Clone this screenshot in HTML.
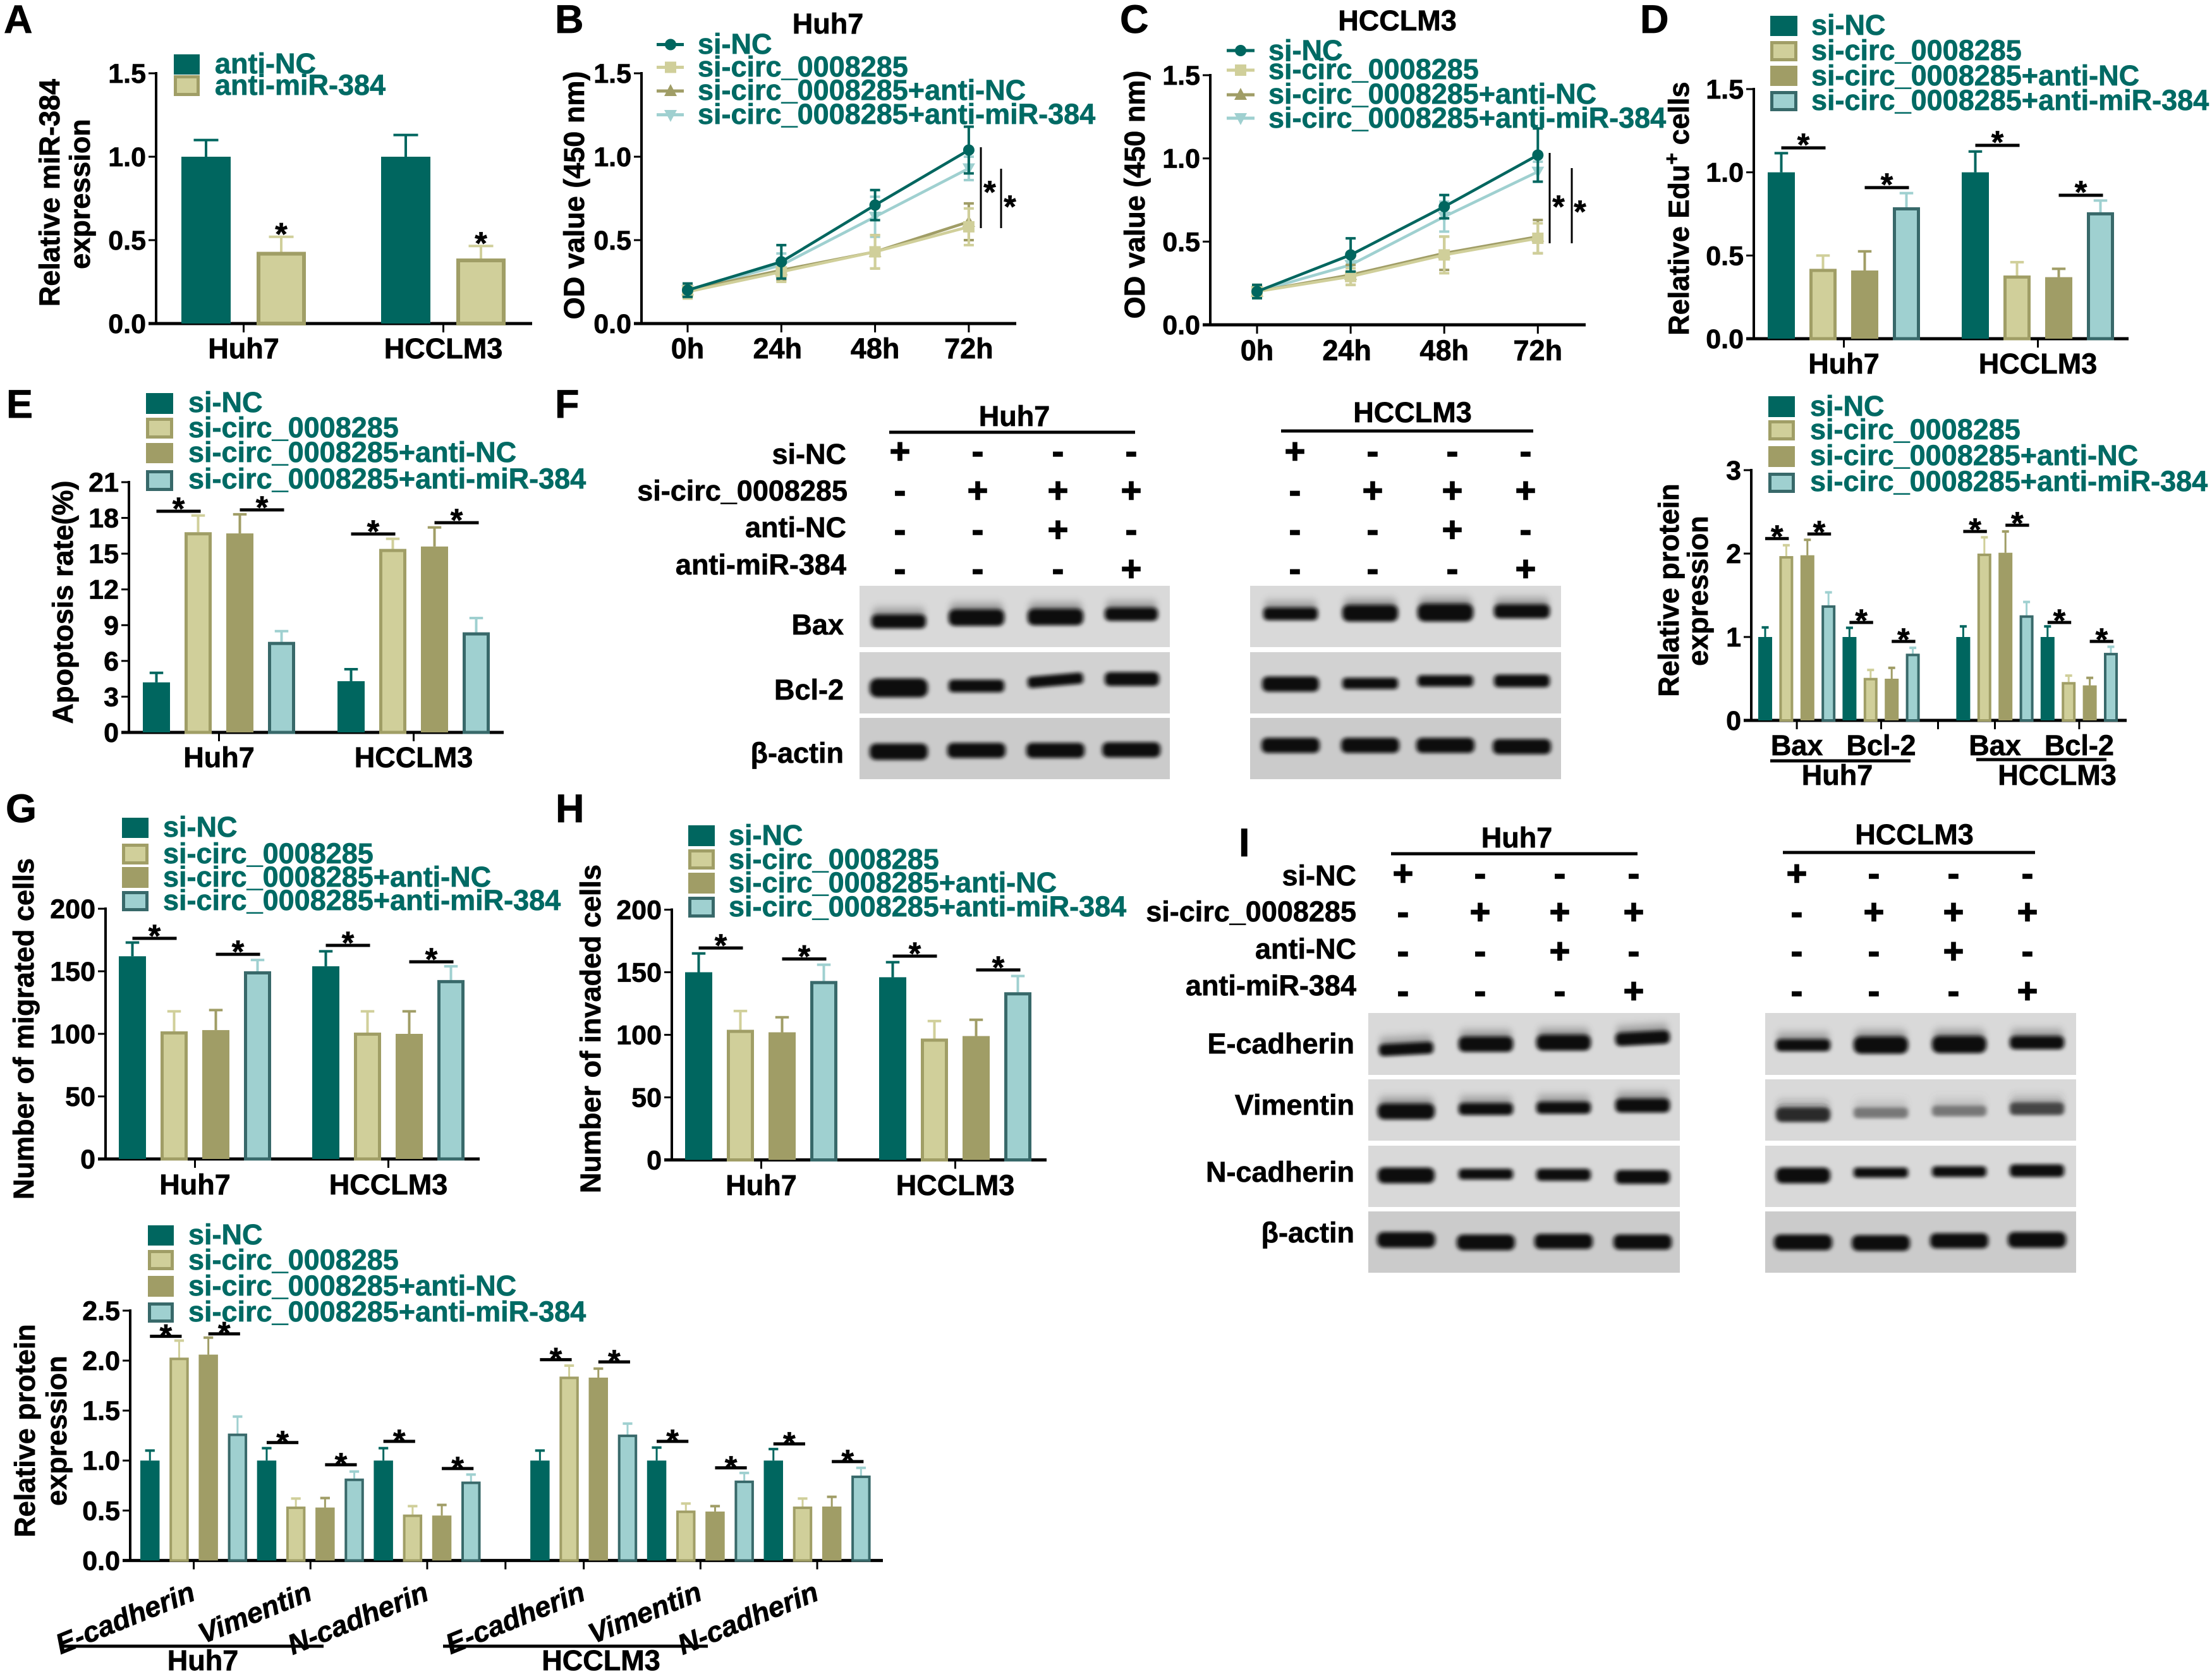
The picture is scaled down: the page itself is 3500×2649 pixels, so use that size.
<!DOCTYPE html>
<html lang="en">
<head>
<meta charset="utf-8">
<title>Multi-panel figure: circ_0008285 and miR-384</title>
<style>
html,body{margin:0;padding:0;background:#fff}
svg{display:block}
text{font-family:"Liberation Sans",sans-serif;font-weight:bold;font-size:45px;fill:#000;stroke:#000;stroke-width:.7px}
.letter{font-size:63px}
.leg{fill:#006a64;stroke:#006a64}
.tick{font-size:43px;text-anchor:end}
.mid{text-anchor:middle}
.end{text-anchor:end}
.pm{text-anchor:middle;font-size:56px;stroke-width:1.5px}
.star{text-anchor:middle;font-size:50px}
.ital{font-style:italic;text-anchor:end}
.rule{stroke:#000;stroke-width:5;fill:none}
.axis{stroke:#000;stroke-width:4;fill:none}
.axis-x{stroke:#000;stroke-width:5;fill:none}
.thin{stroke:#000;stroke-width:3;fill:none}
.bar-s0{fill:#00665f}
.bar-s1{fill:#d0cf9a;stroke:#a09e66}
.bar-s2{fill:#a09d66}
.bar-s3{fill:#9fd0d0;stroke:#38696a}
.err-s0{stroke:#00665f;fill:none}
.err-s1{stroke:#d0cf9a;fill:none}
.err-s2{stroke:#a09d66;fill:none}
.err-s3{stroke:#9fd0d0;fill:none}
.mark-s0{fill:#00665f}
.mark-s1{fill:#d0cf9a}
.mark-s2{fill:#a09d66}
.mark-s3{fill:#9fd0d0}
.blot-a{fill:#d9d9d9}
.blot-b{fill:#d2d2d2}
.blot-c{fill:#cbcbcb}
.band{fill:#0c0c0c;filter:url(#band-blur)}
.smear{fill:#0c0c0c;filter:url(#band-smear)}
</style>
</head>
<body>
<svg id="figure" xmlns="http://www.w3.org/2000/svg" width="3500" height="2649" viewBox="0 0 3500 2649">
<defs>
<filter id="band-blur" x="-20%" y="-150%" width="140%" height="400%">
<feMorphology in="SourceGraphic" operator="dilate" radius="1 2.5" result="fat"/>
<feGaussianBlur in="fat" stdDeviation="3.5 3"/>
</filter>
<filter id="band-smear" x="-20%" y="-300%" width="140%" height="600%">
<feMorphology in="SourceGraphic" operator="dilate" radius="1 2.5" result="fat"/>
<feGaussianBlur in="fat" stdDeviation="3.5 3" result="core"/>
<feOffset in="SourceGraphic" dy="-10" result="up"/>
<feGaussianBlur in="up" stdDeviation="5 8" result="soft"/>
<feComponentTransfer in="soft" result="faint"><feFuncA type="linear" slope="0.4"/></feComponentTransfer>
<feMerge><feMergeNode in="faint"/><feMergeNode in="core"/></feMerge>
</filter>
</defs>
<rect width="3500" height="2649" fill="#fff"/>

<!-- panel letters -->
<g>
<text class="letter" x="6" y="52">A</text>
<text class="letter" x="878" y="52">B</text>
<text class="letter" x="1772" y="52">C</text>
<text class="letter" x="2595" y="52">D</text>
<text class="letter" x="10" y="661">E</text>
<text class="letter" x="878" y="661">F</text>
<text class="letter" x="9" y="1301">G</text>
<text class="letter" x="879" y="1301">H</text>
<text class="letter" x="1960" y="1355">I</text>
</g>

<!-- y axis titles -->
<g>
<text class="mid" transform="translate(94 305) rotate(-90)">Relative miR-384</text>
<text class="mid" transform="translate(142 307) rotate(-90)">expression</text>
<text class="mid" transform="translate(924 309) rotate(-90)">OD value (450 nm)</text>
<text class="mid" transform="translate(1811 308) rotate(-90)">OD value (450 nm)</text>
<text class="mid" transform="translate(2672 330) rotate(-90)">Relative Edu<tspan font-size="32" dy="-16">+</tspan><tspan dy="16"> cells</tspan></text>
<text class="mid" transform="translate(115 953) rotate(-90)">Apoptosis rate(%)</text>
<text class="mid" transform="translate(2656 934) rotate(-90)">Relative protein</text>
<text class="mid" transform="translate(2702 935) rotate(-90)">expression</text>
<text class="mid" transform="translate(53 1628) rotate(-90)">Number of migrated cells</text>
<text class="mid" transform="translate(950 1628) rotate(-90)">Number of invaded cells</text>
<text class="mid" transform="translate(55 2264) rotate(-90)">Relative protein</text>
<text class="mid" transform="translate(105 2264) rotate(-90)">expression</text>
</g>

<!-- line chart titles -->
<text class="mid" x="1310" y="53">Huh7</text>
<text class="mid" x="2211" y="48">HCCLM3</text>

<!-- significance lines in line charts -->
<g>
<line class="thin" x1="1552" x2="1552" y1="233" y2="361"/>
<line class="thin" x1="1584" x2="1584" y1="267" y2="361"/>
<text class="star" x="1566" y="321">*</text>
<text class="star" x="1598" y="344">*</text>
</g>
<g>
<line class="thin" x1="2452" x2="2452" y1="242" y2="385"/>
<line class="thin" x1="2487" x2="2487" y1="266" y2="385"/>
<text class="star" x="2466" y="344">*</text>
<text class="star" x="2500" y="352">*</text>
</g>

<g id="plots"></g>

<!-- legends -->
<g>
<rect class="bar-s0" x="275" y="86" width="41" height="32"/>
<rect class="bar-s1" x="277.5" y="121.5" width="36" height="28" stroke-width="5"/>
<text class="leg" x="340" y="116">anti-NC</text>
<text class="leg" x="340" y="150">anti-miR-384</text>
</g>

<g>
<line class="err-s0" stroke-width="5" x1="1039" x2="1082" y1="70.5" y2="70.5"/>
<circle class="mark-s0" cx="1061" cy="70.5" r="9"/>
<line class="err-s1" stroke-width="5" x1="1039" x2="1082" y1="106.5" y2="106.5"/>
<rect class="mark-s1" x="1052" y="97.5" width="18" height="18"/>
<line class="err-s2" stroke-width="5" x1="1039" x2="1082" y1="144" y2="144"/>
<polygon class="mark-s2" points="1061,133 1071,152 1051,152"/>
<line class="err-s3" stroke-width="5" x1="1039" x2="1082" y1="181.6" y2="181.6"/>
<polygon class="mark-s3" points="1051,174 1071,174 1061,193"/>
<text class="leg" x="1104" y="85">si-NC</text>
<text class="leg" x="1104" y="121">si-circ_0008285</text>
<text class="leg" x="1104" y="158">si-circ_0008285+anti-NC</text>
<text class="leg" x="1104" y="196">si-circ_0008285+anti-miR-384</text>
</g>

<g>
<line class="err-s0" stroke-width="5" x1="1941" x2="1985" y1="80" y2="80"/>
<circle class="mark-s0" cx="1963" cy="80" r="9"/>
<line class="err-s1" stroke-width="5" x1="1941" x2="1985" y1="111" y2="111"/>
<rect class="mark-s1" x="1954" y="102" width="18" height="18"/>
<line class="err-s2" stroke-width="5" x1="1941" x2="1985" y1="150" y2="150"/>
<polygon class="mark-s2" points="1963,139 1973,158 1953,158"/>
<line class="err-s3" stroke-width="5" x1="1941" x2="1985" y1="187" y2="187"/>
<polygon class="mark-s3" points="1953,179 1973,179 1963,198"/>
<text class="leg" x="2007" y="95">si-NC</text>
<text class="leg" x="2007" y="125">si-circ_0008285</text>
<text class="leg" x="2007" y="164">si-circ_0008285+anti-NC</text>
<text class="leg" x="2007" y="202">si-circ_0008285+anti-miR-384</text>
</g>

<g>
<rect class="bar-s0" x="2801" y="25" width="43" height="32"/>
<rect class="bar-s1" x="2803.5" y="67.5" width="38" height="27" stroke-width="5"/>
<rect class="bar-s2" x="2801" y="104" width="43" height="32"/>
<rect class="bar-s3" x="2803.5" y="146.5" width="38" height="27" stroke-width="5"/>
<text class="leg" x="2866" y="55">si-NC</text>
<text class="leg" x="2866" y="95">si-circ_0008285</text>
<text class="leg" x="2866" y="135">si-circ_0008285+anti-NC</text>
<text class="leg" x="2866" y="174">si-circ_0008285+anti-miR-384</text>
</g>

<g>
<rect class="bar-s0" x="231" y="622" width="43" height="33"/>
<rect class="bar-s1" x="233.5" y="663.5" width="38" height="28" stroke-width="5"/>
<rect class="bar-s2" x="231" y="701" width="43" height="32"/>
<rect class="bar-s3" x="233.5" y="746.5" width="38" height="28" stroke-width="5"/>
<text class="leg" x="298" y="652">si-NC</text>
<text class="leg" x="298" y="692">si-circ_0008285</text>
<text class="leg" x="298" y="731">si-circ_0008285+anti-NC</text>
<text class="leg" x="298" y="773">si-circ_0008285+anti-miR-384</text>
</g>

<g>
<rect class="bar-s0" x="2798" y="627" width="42" height="33"/>
<rect class="bar-s1" x="2800.5" y="667.5" width="37" height="27" stroke-width="5"/>
<rect class="bar-s2" x="2798" y="706" width="42" height="33"/>
<rect class="bar-s3" x="2800.5" y="750.5" width="37" height="27" stroke-width="5"/>
<text class="leg" x="2864" y="658">si-NC</text>
<text class="leg" x="2864" y="695">si-circ_0008285</text>
<text class="leg" x="2864" y="736">si-circ_0008285+anti-NC</text>
<text class="leg" x="2864" y="777">si-circ_0008285+anti-miR-384</text>
</g>

<g>
<rect class="bar-s0" x="193" y="1294" width="42" height="32"/>
<rect class="bar-s1" x="195.5" y="1337.5" width="37" height="28" stroke-width="5"/>
<rect class="bar-s2" x="193" y="1372" width="42" height="33"/>
<rect class="bar-s3" x="195.5" y="1412.5" width="37" height="27" stroke-width="5"/>
<text class="leg" x="258" y="1324">si-NC</text>
<text class="leg" x="258" y="1366">si-circ_0008285</text>
<text class="leg" x="258" y="1403">si-circ_0008285+anti-NC</text>
<text class="leg" x="258" y="1440">si-circ_0008285+anti-miR-384</text>
</g>

<g>
<rect class="bar-s0" x="1089" y="1306" width="42" height="33"/>
<rect class="bar-s1" x="1091.5" y="1346.5" width="37" height="27" stroke-width="5"/>
<rect class="bar-s2" x="1089" y="1381" width="42" height="33"/>
<rect class="bar-s3" x="1091.5" y="1421.5" width="37" height="28" stroke-width="5"/>
<text class="leg" x="1153" y="1337">si-NC</text>
<text class="leg" x="1153" y="1375">si-circ_0008285</text>
<text class="leg" x="1153" y="1412">si-circ_0008285+anti-NC</text>
<text class="leg" x="1153" y="1450">si-circ_0008285+anti-miR-384</text>
</g>

<g>
<rect class="bar-s0" x="234" y="1939" width="41" height="32"/>
<rect class="bar-s1" x="236.5" y="1980.5" width="36" height="27" stroke-width="5"/>
<rect class="bar-s2" x="234" y="2019" width="41" height="33"/>
<rect class="bar-s3" x="236.5" y="2063.5" width="36" height="27" stroke-width="5"/>
<text class="leg" x="298" y="1969">si-NC</text>
<text class="leg" x="298" y="2009">si-circ_0008285</text>
<text class="leg" x="298" y="2050">si-circ_0008285+anti-NC</text>
<text class="leg" x="298" y="2091">si-circ_0008285+anti-miR-384</text>
</g>

<!-- group annotations under charts -->
<g>
<line class="rule" x1="2801" x2="3023" y1="1204" y2="1204"/>
<line class="rule" x1="3127" x2="3333" y1="1202" y2="1202"/>
<text class="mid" x="2907" y="1242">Huh7</text>
<text class="mid" x="3255" y="1242">HCCLM3</text>
</g>
<g>
<line class="rule" x1="96" x2="512" y1="2605" y2="2605"/>
<line class="rule" x1="701" x2="1120" y1="2605" y2="2605"/>
<text class="mid" x="321" y="2643">Huh7</text>
<text class="mid" x="951" y="2643">HCCLM3</text>
</g>

<!-- Panel F western blot -->
<g>
<text class="mid" x="1605" y="674">Huh7</text>
<line class="rule" x1="1407" x2="1796" y1="684" y2="684"/>
<text class="mid" x="2235" y="668">HCCLM3</text>
<line class="rule" x1="2027" x2="2426" y1="682" y2="682"/>
<text class="end" x="1339" y="734">si-NC</text>
<text class="end" x="1341" y="792">si-circ_0008285</text>
<text class="end" x="1339" y="850">anti-NC</text>
<text class="end" x="1339" y="909">anti-miR-384</text>
<text class="pm" x="1424 1547 1674 1790 2049 2172 2298 2414" y="733">+---+---</text>
<text class="pm" x="1424 1547 1674 1790 2049 2172 2298 2414" y="795">-+++-+++</text>
<text class="pm" x="1424 1547 1674 1790 2049 2172 2298 2414" y="857">--+---+-</text>
<text class="pm" x="1424 1547 1674 1790 2049 2172 2298 2414" y="919">---+---+</text>
<text class="end" x="1335" y="1004">Bax</text>
<text class="end" x="1335" y="1107">Bcl-2</text>
<text class="end" x="1335" y="1207">β-actin</text>
<rect class="blot-a" x="1360" y="927" width="491" height="97"/>
<rect class="blot-b" x="1360" y="1032" width="491" height="97"/>
<rect class="blot-c" x="1360" y="1136" width="491" height="97"/>
<rect class="blot-a" x="1978" y="927" width="492" height="97"/>
<rect class="blot-b" x="1978" y="1032" width="492" height="97"/>
<rect class="blot-c" x="1978" y="1136" width="492" height="97"/>
<rect class="smear" x="1380" y="975" width="84" height="17" rx="8"/>
<rect class="smear" x="1502" y="967" width="86" height="21" rx="10"/>
<rect class="smear" x="1627" y="966" width="86" height="21" rx="10"/>
<rect class="smear" x="1749" y="964" width="82" height="16" rx="8"/>
<rect class="smear" x="2000" y="964" width="84" height="15" rx="7"/>
<rect class="smear" x="2125" y="960" width="86" height="21" rx="10"/>
<rect class="smear" x="2244" y="958" width="86" height="23" rx="11"/>
<rect class="smear" x="2365" y="959" width="86" height="17" rx="8"/>
<rect class="band" x="1377" y="1076" width="90" height="25" rx="12"/>
<rect class="band" x="1502" y="1078" width="86" height="15" rx="7"/>
<rect class="band" x="1627" y="1070" width="86" height="13" rx="6" transform="rotate(-5 1670 1077)"/>
<rect class="band" x="1749" y="1066" width="84" height="17" rx="8"/>
<rect class="band" x="1998" y="1073" width="88" height="19" rx="9"/>
<rect class="band" x="2125" y="1075" width="86" height="13" rx="6"/>
<rect class="band" x="2244" y="1071" width="86" height="13" rx="6"/>
<rect class="band" x="2365" y="1070" width="86" height="15" rx="7"/>
<rect class="band" x="1377" y="1179" width="90" height="21" rx="10"/>
<rect class="band" x="1500" y="1178" width="90" height="19" rx="9"/>
<rect class="band" x="1625" y="1178" width="90" height="19" rx="9"/>
<rect class="band" x="1745" y="1177" width="90" height="19" rx="9"/>
<rect class="band" x="1997" y="1170" width="90" height="19" rx="9"/>
<rect class="band" x="2123" y="1170" width="90" height="19" rx="9"/>
<rect class="band" x="2242" y="1170" width="90" height="19" rx="9"/>
<rect class="band" x="2363" y="1172" width="90" height="19" rx="9"/>
</g>

<!-- Panel I western blot -->
<g>
<text class="mid" x="2400" y="1341">Huh7</text>
<line class="rule" x1="2201" x2="2591" y1="1351" y2="1351"/>
<text class="mid" x="3029" y="1336">HCCLM3</text>
<line class="rule" x1="2821" x2="3220" y1="1349" y2="1349"/>
<text class="end" x="2146" y="1401">si-NC</text>
<text class="end" x="2146" y="1458">si-circ_0008285</text>
<text class="end" x="2146" y="1517">anti-NC</text>
<text class="end" x="2146" y="1575">anti-miR-384</text>
<text class="pm" x="2220 2342 2468 2585 2843 2965 3091 3208" y="1401">+---+---</text>
<text class="pm" x="2220 2342 2468 2585 2843 2965 3091 3208" y="1462">-+++-+++</text>
<text class="pm" x="2220 2342 2468 2585 2843 2965 3091 3208" y="1524">--+---+-</text>
<text class="pm" x="2220 2342 2468 2585 2843 2965 3091 3208" y="1587">---+---+</text>
<text class="end" x="2143" y="1667">E-cadherin</text>
<text class="end" x="2143" y="1764">Vimentin</text>
<text class="end" x="2143" y="1870">N-cadherin</text>
<text class="end" x="2143" y="1966">β-actin</text>
<rect class="blot-a" x="2165" y="1603" width="493" height="98"/>
<rect class="blot-a" x="2165" y="1708" width="493" height="97"/>
<rect class="blot-a" x="2165" y="1813" width="493" height="97"/>
<rect class="blot-c" x="2165" y="1917" width="493" height="97"/>
<rect class="blot-a" x="2793" y="1603" width="492" height="98"/>
<rect class="blot-a" x="2793" y="1708" width="492" height="97"/>
<rect class="blot-a" x="2793" y="1813" width="492" height="97"/>
<rect class="blot-c" x="2793" y="1917" width="492" height="97"/>
<rect class="smear" x="2183" y="1653" width="84" height="14" rx="7" transform="rotate(-3 2225 1660)"/>
<rect class="smear" x="2309" y="1643" width="84" height="19" rx="9"/>
<rect class="smear" x="2432" y="1640" width="84" height="20" rx="10"/>
<rect class="smear" x="2557" y="1635" width="84" height="16" rx="8" transform="rotate(-3 2599 1643)"/>
<rect class="smear" x="2811" y="1647" width="84" height="14" rx="7"/>
<rect class="smear" x="2934" y="1643" width="84" height="22" rx="11"/>
<rect class="smear" x="3058" y="1642" width="84" height="22" rx="11"/>
<rect class="smear" x="3181" y="1642" width="84" height="16" rx="8"/>
<rect class="smear" x="2181" y="1749" width="88" height="20" rx="10"/>
<rect class="smear" x="2309" y="1748" width="84" height="14" rx="7"/>
<rect class="smear" x="2432" y="1746" width="84" height="14" rx="7"/>
<rect class="smear" x="2557" y="1741" width="84" height="17" rx="8"/>
<rect class="smear" x="2811" y="1755" width="84" height="18" rx="9" style="fill:#2a2a2a"/>
<rect class="smear" x="2934" y="1755" width="84" height="12" rx="6" style="fill:#777"/>
<rect class="smear" x="3058" y="1752" width="84" height="12" rx="6" style="fill:#777"/>
<rect class="smear" x="3181" y="1747" width="84" height="15" rx="7" style="fill:#444"/>
<rect class="band" x="2181" y="1850" width="88" height="20" rx="10"/>
<rect class="band" x="2309" y="1852" width="84" height="12" rx="6"/>
<rect class="band" x="2432" y="1852" width="84" height="14" rx="7"/>
<rect class="band" x="2557" y="1854" width="84" height="17" rx="8"/>
<rect class="band" x="2811" y="1850" width="84" height="20" rx="10"/>
<rect class="band" x="2934" y="1850" width="84" height="11" rx="5"/>
<rect class="band" x="3058" y="1848" width="84" height="12" rx="6"/>
<rect class="band" x="3181" y="1845" width="84" height="15" rx="7"/>
<rect class="band" x="2180" y="1952" width="90" height="20" rx="10"/>
<rect class="band" x="2306" y="1956" width="90" height="20" rx="10"/>
<rect class="band" x="2429" y="1955" width="90" height="19" rx="9"/>
<rect class="band" x="2554" y="1956" width="90" height="19" rx="9"/>
<rect class="band" x="2808" y="1956" width="90" height="20" rx="10"/>
<rect class="band" x="2931" y="1957" width="90" height="20" rx="10"/>
<rect class="band" x="3055" y="1954" width="90" height="19" rx="9"/>
<rect class="band" x="3178" y="1952" width="90" height="20" rx="10"/>
</g>
</svg>

<script>
/* ---------- chart data ---------- */
const cellCategories = ['Huh7', 'HCCLM3'];
const timeCategories = ['0h', '24h', '48h', '72h'];
const odTickLabels = ['0.0', '0.5', '1.0', '1.5'];

const panelAMeans = [[1.0, 0.43], [1.0, 0.39]];
const panelAErrors = [[0.10, 0.09], [0.13, 0.075]];

const panelBSiNc = [0.20, 0.37, 0.71, 1.04];
const panelBSiNcErr = [0.04, 0.10, 0.09, 0.14];
const panelBSiCirc = [0.19, 0.31, 0.43, 0.58];
const panelBSiCircErr = [0.04, 0.06, 0.10, 0.11];
const panelBAntiNc = [0.20, 0.32, 0.43, 0.61];
const panelBAntiNcErr = [0.04, 0.06, 0.10, 0.11];
const panelBAntiMir = [0.20, 0.35, 0.64, 0.93];
const panelBAntiMirErr = [0.03, 0.07, 0.12, 0.07];

const panelCSiNc = [0.20, 0.42, 0.71, 1.02];
const panelCSiNcErr = [0.04, 0.10, 0.07, 0.16];
const panelCSiCirc = [0.20, 0.29, 0.42, 0.52];
const panelCSiCircErr = [0.04, 0.05, 0.11, 0.09];
const panelCAntiNc = [0.20, 0.30, 0.43, 0.53];
const panelCAntiNcErr = [0.04, 0.06, 0.10, 0.10];
const panelCAntiMir = [0.20, 0.36, 0.65, 0.92];
const panelCAntiMirErr = [0.03, 0.05, 0.09, 0.06];

const panelDMeans = [[1.0, 0.42, 0.41, 0.79], [1.0, 0.38, 0.37, 0.76]];
const panelDErrors = [[0.115, 0.08, 0.115, 0.085], [0.125, 0.08, 0.05, 0.07]];
const panelDSigLevels = [[1.147, 0.908], [1.162, 0.862]];

const panelEMeans = [[4.2, 16.8, 16.7, 7.6], [4.3, 15.4, 15.6, 8.4]];
const panelEErrors = [[0.8, 1.4, 1.6, 0.9], [1.0, 0.85, 1.6, 1.2]];
const panelESigLevels = [[18.56, 18.67], [16.65, 17.6]];
const panelETickLabels = ['0', '3', '6', '9', '12', '15', '18', '21'];

const panelFCategories = ['Bax', 'Bcl-2', 'Bax', 'Bcl-2'];
const panelFMeans = [[1.0, 1.97, 1.98, 1.38], [1.0, 0.51, 0.50, 0.80], [1.0, 2.0, 2.01, 1.26], [1.0, 0.46, 0.42, 0.81]];
const panelFErrors = [[0.115, 0.13, 0.185, 0.155], [0.11, 0.095, 0.13, 0.07], [0.127, 0.195, 0.255, 0.16], [0.127, 0.077, 0.09, 0.073]];
const panelFSigLevels = [[2.18, 2.235], [1.174, 0.947], [2.265, 2.34], [1.174, 0.947]];
const panelFTickLabels = ['0', '1', '2', '3'];

const panelGMeans = [[162, 102, 103, 150], [154, 101, 100, 143]];
const panelGErrors = [[11, 16, 16, 9], [12, 17, 18, 11]];
const panelGSigLevels = [[176.3, 163.6], [170.7, 157.6]];

const panelHMeans = [[150, 104, 102, 143], [146, 97, 99, 134]];
const panelHErrors = [[15, 15, 12, 13], [12, 14, 13, 13]];
const panelHSigLevels = [[169.4, 160.6], [162.9, 151.8]];
const cellCountTickLabels = ['0', '50', '100', '150', '200'];

const panelICategories = ['E-cadherin', 'Vimentin', 'N-cadherin', 'E-cadherin', 'Vimentin', 'N-cadherin'];
const panelIMeans = [[1.0, 2.03, 2.06, 1.27], [1.0, 0.54, 0.53, 0.82], [1.0, 0.46, 0.45, 0.79], [1.0, 1.84, 1.83, 1.26], [1.0, 0.50, 0.49, 0.80], [1.0, 0.54, 0.54, 0.85]];
const panelIErrors = [[0.10, 0.17, 0.17, 0.17], [0.124, 0.08, 0.095, 0.07], [0.124, 0.084, 0.106, 0.07], [0.10, 0.11, 0.09, 0.11], [0.13, 0.07, 0.054, 0.076], [0.115, 0.08, 0.097, 0.077]];
const panelISigLevels = [[2.243, 2.268], [1.18, 0.958], [1.192, 0.92], [2.009, 1.987], [1.192, 0.927], [1.167, 0.99]];
const panelITickLabels = ['0.0', '0.5', '1.0', '1.5', '2.0', '2.5'];

/* ---------- drawing helpers ---------- */
const SVG_NS = 'http://www.w3.org/2000/svg';
const plots = document.getElementById('plots');

function shape(tag, attrs, parent) {
  const el = document.createElementNS(SVG_NS, tag);
  Object.keys(attrs).forEach(function (k) { el.setAttribute(k, attrs[k]); });
  parent.appendChild(el);
  return el;
}
function yScale(layout, value) {
  return layout.y0 - (value / layout.max) * (layout.y0 - layout.yTop);
}
function barX(layout, group, series) {
  const gap = layout.midIndex !== undefined && group >= layout.midIndex ? layout.midGap : 0;
  return layout.x0 + group * layout.groupStep + gap + series * layout.barStep;
}
function barCenter(layout, group, series) {
  return barX(layout, group, series) + layout.barWidth / 2;
}
function groupCenter(layout, group, seriesCount) {
  return (barX(layout, group, 0) + barX(layout, group, seriesCount - 1) + layout.barWidth) / 2;
}
function lineX(layout, index) {
  return layout.x0 + index * layout.xStep;
}

function drawYAxis(layout, labels, parent) {
  const spine = shape('line', { x1: layout.axisX, x2: layout.axisX, y1: layout.yTop - 2, y2: layout.y0, class: 'axis' }, parent);
  
  
  const base = shape('line', { x1: layout.axisX - 12, x2: layout.axisEnd, y1: layout.y0, y2: layout.y0, class: 'axis-x' }, parent);
  
  
  labels.forEach(function (label) {
    const y = yScale(layout, Number(label));
    const tick = shape('line', { x1: layout.axisX - 12, x2: layout.axisX, y1: y, y2: y, class: 'thin' }, parent);
    
    
    const text = shape('text', { x: layout.axisX - 16, y: y + 15, class: 'tick' }, parent);
    
    
    text.textContent = label;
  });
}

function drawXTick(layout, x, parent) {
  const tick = shape('line', { x1: x, x2: x, y1: layout.y0, y2: layout.y0 + 14, class: 'thin' }, parent);
  
  
}

function drawCategoryLabel(layout, label, x, parent) {
  let text;
  if (layout.rotated) {
    text = shape('text', { x: x + 5, y: layout.labelY, class: 'ital', transform: 'rotate(-22 ' + (x + 5) + ' ' + layout.labelY + ')' }, parent);
  } else {
    text = shape('text', { x: x, y: layout.labelY, class: 'mid' }, parent);
  }
  
  
  text.textContent = label;
}

function drawStar(x, y, parent) {
  const star = shape('text', { x: x, y: y + 27, class: 'star' }, parent);
  
  
  star.textContent = '*';
}

function drawBars(layout, means, errors, categories, sigLevels, parent) {
  means.forEach(function (group, g) {
    group.forEach(function (value, s) {
      const cx = barCenter(layout, g, s);
      const top = yScale(layout, value);
      const errTop = yScale(layout, value + errors[g][s]);
      const cap = layout.barWidth / 2;
      const stem = shape('line', { x1: cx, x2: cx, y1: top, y2: errTop, class: 'err-s' + s, 'stroke-width': layout.errWidth }, parent);
      
      
      const capLine = shape('line', { x1: cx - cap / 2, x2: cx + cap / 2, y1: errTop, y2: errTop, class: 'err-s' + s, 'stroke-width': 4 }, parent);
      
      
      const inset = s % 2 === 1 ? layout.strokeWidth / 2 : 0;
      const bar = shape('rect', {
        x: barX(layout, g, s) + inset,
        y: top + inset,
        width: layout.barWidth - 2 * inset,
        height: Math.max(0, layout.y0 - top - inset),
        class: 'bar-s' + s,
        'stroke-width': s % 2 === 1 ? layout.strokeWidth : 0
      }, parent);
      
      
    });
    const center = groupCenter(layout, g, group.length);
    drawXTick(layout, center, parent);
    drawCategoryLabel(layout, categories[g], center, parent);
    if (sigLevels) {
      sigLevels[g].forEach(function (level, pair) {
        const first = pair * 2;
        const x1 = barCenter(layout, g, first);
        const x2 = barCenter(layout, g, first + 1) + 4;
        const y = yScale(layout, level);
        const rule = shape('line', { x1: x1, x2: x2, y1: y, y2: y, class: 'rule' }, parent);
        
        
        drawStar((x1 + x2) / 2, y - layout.starGap, parent);
      });
    }
  });
  if (layout.midIndex !== undefined) {
    const leftEdge = barX(layout, layout.midIndex - 1, means[0].length - 1) + layout.barWidth;
    drawXTick(layout, (leftEdge + barX(layout, layout.midIndex, 0)) / 2, parent);
  }
}

function drawMarker(layout, series, x, y, parent) {
  let mark;
  if (series === 0) {
    mark = shape('circle', { cx: x, cy: y, r: 9, class: 'mark-s0' }, parent);
  } else if (series === 1) {
    mark = shape('rect', { x: x - 9, y: y - 9, width: 18, height: 18, class: 'mark-s1' }, parent);
  } else if (series === 2) {
    mark = shape('polygon', { points: [x, y - 10, x + 10, y + 8, x - 10, y + 8].join(' '), class: 'mark-s2' }, parent);
  } else {
    mark = shape('polygon', { points: [x - 10, y - 8, x + 10, y - 8, x, y + 10].join(' '), class: 'mark-s3' }, parent);
  }
  
  
}

function drawLineSeries(layout, values, errors, series, parent) {
  const points = values.map(function (v, i) { return lineX(layout, i) + ',' + yScale(layout, v); }).join(' ');
  const path = shape('polyline', { points: points, class: 'err-s' + series, 'stroke-width': 4.5 }, parent);
  
  
  values.forEach(function (v, i) {
    const x = lineX(layout, i);
    const hi = yScale(layout, v + errors[i]);
    const lo = yScale(layout, v - errors[i]);
    const stem = shape('line', { x1: x, x2: x, y1: hi, y2: lo, class: 'err-s' + series, 'stroke-width': 4 }, parent);
    
    
    const capTop = shape('line', { x1: x - 8, x2: x + 8, y1: hi, y2: hi, class: 'err-s' + series, 'stroke-width': 4 }, parent);
    
    
    const capBottom = shape('line', { x1: x - 8, x2: x + 8, y1: lo, y2: lo, class: 'err-s' + series, 'stroke-width': 4 }, parent);
    
    
    drawMarker(layout, series, x, yScale(layout, v), parent);
  });
}

function drawTimeAxis(layout, categories, parent) {
  categories.forEach(function (label, i) {
    const x = lineX(layout, i);
    drawXTick(layout, x, parent);
    drawCategoryLabel(layout, label, i === 1 ? x - 6 : x, parent);
  });
}

/* ---------- panel A ---------- */
const groupA = shape('g', {}, plots);


const layoutA = { axisX: 247, axisEnd: 842, y0: 512, yTop: 116, max: 1.5, x0: 287, groupStep: 316, barStep: 119, barWidth: 78, errWidth: 4, strokeWidth: 6, labelY: 567, starGap: 0 };
drawYAxis(layoutA, odTickLabels, groupA);
drawBars(layoutA, panelAMeans, panelAErrors, cellCategories, null, groupA);
panelAMeans.forEach(function (group, g) {
  drawStar(barCenter(layoutA, g, 1), yScale(layoutA, group[1] + panelAErrors[g][1]) - 14, groupA);
});

/* ---------- panel B ---------- */
const groupB = shape('g', {}, plots);


const layoutB = { axisX: 1015, axisEnd: 1608, y0: 512, yTop: 116, max: 1.5, x0: 1088, xStep: 148.3, labelY: 567 };
drawYAxis(layoutB, odTickLabels, groupB);
drawTimeAxis(layoutB, timeCategories, groupB);
drawLineSeries(layoutB, panelBAntiMir, panelBAntiMirErr, 3, groupB);
drawLineSeries(layoutB, panelBAntiNc, panelBAntiNcErr, 2, groupB);
drawLineSeries(layoutB, panelBSiCirc, panelBSiCircErr, 1, groupB);
drawLineSeries(layoutB, panelBSiNc, panelBSiNcErr, 0, groupB);

/* ---------- panel C ---------- */
const groupC = shape('g', {}, plots);


const layoutC = { axisX: 1915, axisEnd: 2509, y0: 514, yTop: 119, max: 1.5, x0: 1989, xStep: 148.1, labelY: 570 };
drawYAxis(layoutC, odTickLabels, groupC);
drawTimeAxis(layoutC, timeCategories, groupC);
drawLineSeries(layoutC, panelCAntiMir, panelCAntiMirErr, 3, groupC);
drawLineSeries(layoutC, panelCAntiNc, panelCAntiNcErr, 2, groupC);
drawLineSeries(layoutC, panelCSiCirc, panelCSiCircErr, 1, groupC);
drawLineSeries(layoutC, panelCSiNc, panelCSiNcErr, 0, groupC);

/* ---------- panel D ---------- */
const groupD = shape('g', {}, plots);


const layoutD = { axisX: 2775, axisEnd: 3368, y0: 536, yTop: 141, max: 1.5, x0: 2797, groupStep: 307, barStep: 66, barWidth: 43, errWidth: 4, strokeWidth: 5, labelY: 591, starGap: 15 };
drawYAxis(layoutD, odTickLabels, groupD);
drawBars(layoutD, panelDMeans, panelDErrors, cellCategories, panelDSigLevels, groupD);

/* ---------- panel E ---------- */
const groupE = shape('g', {}, plots);


const layoutE = { axisX: 204, axisEnd: 797, y0: 1159, yTop: 763, max: 21, x0: 226, groupStep: 308, barStep: 66, barWidth: 43, errWidth: 4, strokeWidth: 5, labelY: 1214, starGap: 14 };
drawYAxis(layoutE, panelETickLabels, groupE);
drawBars(layoutE, panelEMeans, panelEErrors, cellCategories, panelESigLevels, groupE);

/* ---------- panel F chart ---------- */
const groupF = shape('g', {}, plots);


const layoutF = { axisX: 2771, axisEnd: 3365, y0: 1140, yTop: 744, max: 3, x0: 2782, groupStep: 133.4, barStep: 33.4, barWidth: 22, errWidth: 3, strokeWidth: 4, midIndex: 2, midGap: 46.6, labelY: 1195, starGap: 13 };
drawYAxis(layoutF, panelFTickLabels, groupF);
drawBars(layoutF, panelFMeans, panelFErrors, panelFCategories, panelFSigLevels, groupF);

/* ---------- panel G ---------- */
const groupG = shape('g', {}, plots);


const layoutG = { axisX: 167, axisEnd: 759, y0: 1834, yTop: 1438, max: 200, x0: 188, groupStep: 306, barStep: 66, barWidth: 43, errWidth: 4, strokeWidth: 5, labelY: 1890, starGap: 14 };
drawYAxis(layoutG, cellCountTickLabels, groupG);
drawBars(layoutG, panelGMeans, panelGErrors, cellCategories, panelGSigLevels, groupG);

/* ---------- panel H ---------- */
const groupH = shape('g', {}, plots);


const layoutH = { axisX: 1063, axisEnd: 1656, y0: 1835.5, yTop: 1439.5, max: 200, x0: 1084, groupStep: 307, barStep: 66, barWidth: 43, errWidth: 4, strokeWidth: 5, labelY: 1891, starGap: 14 };
drawYAxis(layoutH, cellCountTickLabels, groupH);
drawBars(layoutH, panelHMeans, panelHErrors, cellCategories, panelHSigLevels, groupH);

/* ---------- panel I chart ---------- */
const groupI = shape('g', {}, plots);


const layoutI = { axisX: 206, axisEnd: 1397, y0: 2469.4, yTop: 2074, max: 2.5, x0: 222, groupStep: 184.7, barStep: 46.2, barWidth: 30.5, errWidth: 3, strokeWidth: 4, midIndex: 3, midGap: 63, labelY: 2531, starGap: 11, rotated: true };
drawYAxis(layoutI, panelITickLabels, groupI);
drawBars(layoutI, panelIMeans, panelIErrors, panelICategories, panelISigLevels, groupI);
</script>
</body>
</html>
